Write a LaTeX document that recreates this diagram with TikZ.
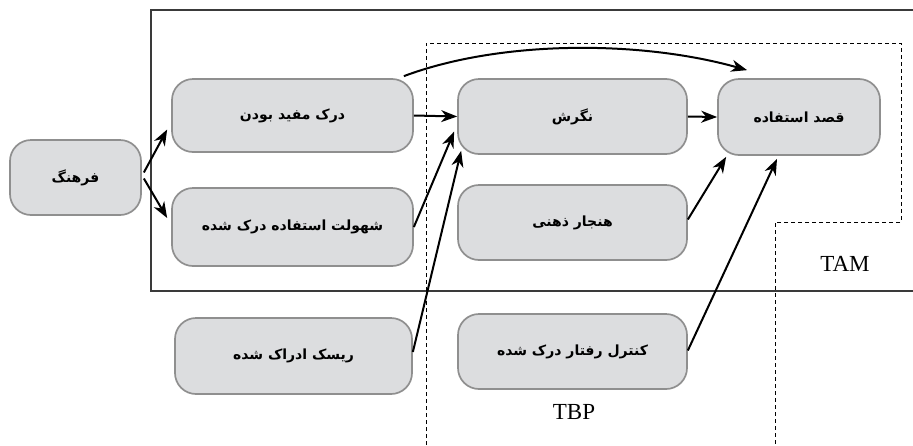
\documentclass[tikz,border=0pt]{standalone}
\usepackage{fontspec}
\setmainfont{Liberation Serif}
\newfontfamily\arabicfont[Script=Arabic]{DejaVu Sans}
\TeXXeTstate=1
\usetikzlibrary{arrows.meta,calc}
\definecolor{boxfill}{HTML}{DCDDDF}
\definecolor{boxline}{HTML}{8F8F8F}
\definecolor{frameline}{HTML}{3A3A3A}
\tikzset{
  factor/.style={draw=boxline, fill=boxfill, line width=1.7pt, rounded corners=21pt,
    font=\arabicfont\bfseries\fontsize{14}{16}\selectfont, inner sep=0pt},
  link/.style={line width=2pt, -{Stealth[length=16pt,width=12pt,inset=5pt]}},
  modelname/.style={font=\fontsize{23}{26}\selectfont}
}
\newcommand{\fa}[1]{\beginR #1\endR}
\begin{document}
\begin{tikzpicture}[x=1pt,y=-1pt]
  \useasboundingbox (0,0) rectangle (913,445);
  % TAM frame (solid) and TBP region (dashed)
  \draw[frameline, line width=1.3pt] (913,10) -- (151,10) -- (151,291) -- (913,291);
  \draw[black, line width=1pt, dash pattern=on 4pt off 3pt]
    (426,445) -- (426,43) -- (901,43) -- (901,222) -- (775,222) -- (775,445);

  % factors
  \node[factor, minimum width=131pt, minimum height=75pt] (farhang)  at (75.5,177.5) {\fa{فرهنگ}};
  \node[factor, minimum width=241pt, minimum height=73pt] (mofid)    at (292.5,115.5) {\fa{درک مفید بودن}};
  \node[factor, minimum width=241pt, minimum height=78pt] (sohulat)  at (292.5,227) {\fa{شهولت استفاده درک شده}};
  \node[factor, minimum width=237pt, minimum height=76pt] (risk)     at (293.5,356) {\fa{ریسک ادراک شده}};
  \node[factor, minimum width=229pt, minimum height=75pt] (negaresh) at (572.5,116.5) {\fa{نگرش}};
  \node[factor, minimum width=229pt, minimum height=75pt] (hanjar)   at (572.5,222.5) {\fa{هنجار ذهنی}};
  \node[factor, minimum width=229pt, minimum height=75pt] (control)  at (572.5,351.5) {\fa{کنترل رفتار درک شده}};
  \node[factor, minimum width=162pt, minimum height=76pt] (ghasd)    at (799,117) {\fa{قصد استفاده}};

  % model labels
  \node[modelname] (tam) at (845,264) {TAM};
  \node[modelname] (tbp) at (574,412) {TBP};

  % relations
  \draw[link] ($(farhang.east)+(2,-5)$) -- ($(mofid.west)+(-4,14)$);
  \draw[link] ($(farhang.east)+(2,1)$) -- ($(sohulat.west)+(-4,-9)$);
  \draw[link] (mofid.east) -- (negaresh.west);
  \draw[link] ($(mofid.north east)+(-10,-2)$) .. controls (500,40) and (640,40) .. ($(ghasd.north west)+(30,-8)$);
  \draw[link] (sohulat.east) -- ($(negaresh.west)+(-3,15)$);
  \draw[link] ($(risk.east)+(0,-4)$) -- ($(negaresh.south west)+(4,-4)$);
  \draw[link] (negaresh.east) -- (ghasd.west);
  \draw[link] ($(hanjar.east)+(0,-3)$) -- ($(ghasd.south west)+(9,1)$);
  \draw[link] ($(control.east)+(0,-1)$) -- ($(ghasd.south)+(-22,3)$);
\end{tikzpicture}
\end{document}
